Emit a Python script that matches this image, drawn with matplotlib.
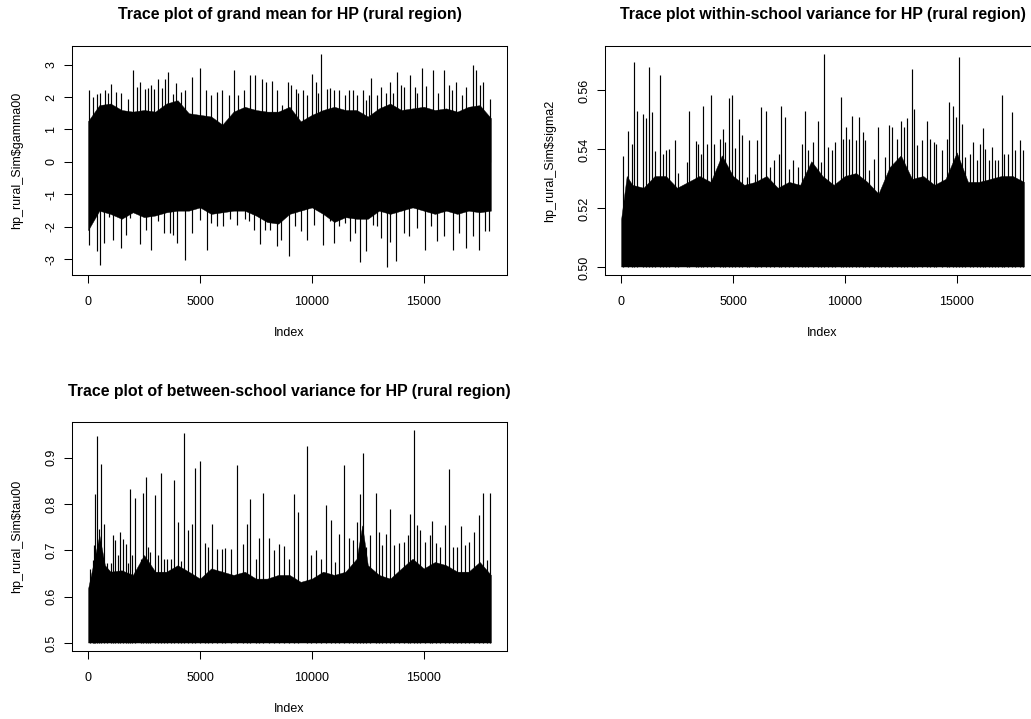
import numpy as np
import matplotlib
matplotlib.use('Agg')
import matplotlib.pyplot as plt

plt.rcParams['font.family'] = ['Liberation Sans', 'DejaVu Sans']

# ---------------- grand mean (gamma00) ----------------
# dense part of the trace, read every 500 iterations
gam_core_x = [0, 500, 1000, 1500, 2000, 2500, 3000, 3500, 4000, 4500, 5000, 5500,
              6000, 6500, 7000, 7500, 8000, 8500, 9000, 9500, 10000, 10500, 11000,
              11500, 12000, 12500, 13000, 13500, 14000, 14500, 15000, 15500, 16000,
              16500, 17000, 17500, 18000]
gam_core_hi = [1.26, 1.75, 1.8, 1.6, 1.55, 1.6, 1.55, 1.8, 1.9, 1.5, 1.45, 1.4,
               1.15, 1.55, 1.7, 1.6, 1.55, 1.55, 1.7, 1.25, 1.45, 1.6, 1.7,
               1.6, 1.6, 1.4, 1.65, 1.8, 1.6, 1.65, 1.7, 1.6, 1.65,
               1.55, 1.7, 1.75, 1.35]
gam_core_lo = [-2.1, -1.5, -1.6, -1.75, -1.55, -1.7, -1.65, -1.55, -1.5, -1.5, -1.4,
               -1.6, -1.55, -1.5, -1.5, -1.65, -1.85, -1.9, -1.6, -1.5, -1.4, -1.6,
               -1.85, -1.7, -1.75, -1.75, -1.5, -1.6, -1.5, -1.4, -1.5, -1.6, -1.5,
               -1.6, -1.5, -1.55, -1.5]
gam_up_x = [59, 238, 401, 550, 773, 877, 1040, 1248, 1471, 1798, 2021, 2184, 2333,
            2541, 2689, 2808, 2957, 3105, 3299, 3447, 3581, 3789, 3923, 4146, 4324,
            4621, 4978, 5290, 5483, 5780, 5988, 6300, 6508, 6716, 6954, 7251, 7444,
            7756, 7964, 8217, 8455, 8677, 8930, 9049, 9272, 9376, 9614, 9792, 9985,
            10163, 10267, 10416, 10654, 10802, 11010, 11233, 11471, 11649, 11828,
            12021, 12288, 12407, 12541, 12660, 12912, 13106, 13328, 13477, 13626,
            13804, 13982, 14131, 14398, 14606, 14695, 14933, 15111, 15423, 15632,
            15899, 16107, 16256, 16449, 16702, 16895, 17222, 17341, 17519, 17667, 17964]
gam_up_y = [2.21, 2.00, 2.09, 2.13, 2.21, 2.11, 2.41, 2.16, 2.11, 1.95, 2.84, 2.31, 2.47,
            2.26, 2.28, 2.38, 2.26, 2.57, 2.29, 2.54, 2.78, 2.08, 2.44, 2.16, 2.21,
            2.62, 2.90, 2.21, 2.06, 2.16, 2.21, 2.06, 2.84, 2.06, 2.21, 2.67, 2.67,
            2.54, 2.46, 2.49, 2.23, 1.75, 2.46, 2.36, 2.26, 2.11, 2.23, 2.06, 2.72,
            2.46, 2.11, 3.31, 2.26, 2.28, 2.21, 2.21, 2.06, 2.21, 2.21,
            2.06, 2.21, 1.90, 2.06, 2.60, 2.06, 2.31, 2.11, 2.46, 2.11,
            2.77, 2.36, 2.31, 2.69, 2.31, 2.11, 2.90, 2.33, 2.84, 2.11,
            2.82, 2.36, 2.21, 2.46, 2.06, 2.31, 3.00, 2.82, 2.36, 2.46, 1.95]
gam_dn_x = [59, 386, 550, 698, 951, 1100, 1486, 1679, 1887, 2303, 2585, 2823, 3105,
            3403, 3640, 3804, 3982, 4309, 4651, 5007, 5305, 5513, 5780, 6048, 6330,
            6672, 6999, 7207, 7415, 7682, 7905, 8128, 8455, 8633, 8975, 9242, 9495,
            9762, 10089, 10505, 10832, 10981, 11219, 11471, 11724, 11947, 12169,
            12437, 12719, 12912, 13106, 13358, 13507, 13759, 14101, 14324, 14695,
            15067, 15320, 15587, 15884, 16285, 16582, 16909, 17222, 17489, 17756, 17935]
gam_dn_y = [-2.55, -2.75, -3.18, -2.49, -1.68, -2.39, -2.65, -2.24, -1.73, -2.52, -2.09,
            -2.72, -1.83, -2.19, -2.19, -2.26, -2.49, -3.01, -2.19, -1.78, -2.72, -1.88,
            -1.98, -1.98, -1.75, -1.93, -1.75, -1.83, -2.09, -2.53, -2.09, -2.09, -2.60,
            -2.39, -2.90, -1.98, -2.14, -2.39, -1.93, -2.55, -1.83, -2.49, -1.98, -1.88,
            -2.44, -2.19, -3.09, -2.75, -1.93, -1.98, -2.34, -3.22, -2.47, -3.06, -2.19,
            -2.29, -2.03, -2.72, -1.98, -2.44, -2.29, -2.70, -2.19, -2.65, -2.29, -2.72,
            -2.14, -2.14]

# ---------------- within-school variance (sigma2) ----------------
sig_floor = 0.5003
sig_core_x = [0, 250, 500, 1000, 1500, 2000, 2500, 3000, 3500, 4000, 4500, 5000, 5500,
              6000, 6500, 7000, 7500, 8000, 8500, 9000, 9500, 10000, 10500, 11000,
              11500, 12000, 12500, 13000, 13500, 14000, 14500, 15000, 15500, 16000,
              16500, 17000, 17500, 18000]
sig_core_hi = [0.5164, 0.531, 0.528, 0.527, 0.531, 0.531, 0.527, 0.529, 0.531, 0.529,
               0.538, 0.531, 0.528, 0.529, 0.531, 0.527, 0.529, 0.528, 0.536, 0.531,
               0.528, 0.531, 0.532, 0.529, 0.525, 0.534, 0.538, 0.530, 0.531, 0.528,
               0.530, 0.539, 0.529, 0.529, 0.530, 0.531, 0.531, 0.529]
sig_up_x = [89, 325, 473, 562, 695, 976, 1124, 1243, 1361, 1509, 1716, 1864, 2012,
            2160, 2396, 2544, 2929, 3047, 3343, 3432, 3550, 3669, 3846, 4024, 4172,
            4438, 4556, 4660, 4808, 4956, 5104, 5281, 5399, 5621, 5695, 5962, 6095,
            6243, 6479, 6657, 6834, 7071, 7145, 7322, 7515, 7692, 7914, 8077, 8210,
            8358, 8580, 8802, 8950, 9053, 9246, 9423, 9541, 9808, 9911, 10059, 10178,
            10311, 10503, 10651, 10799, 10917, 11095, 11317, 11464, 11612, 11805,
            11953, 12101, 12308, 12500, 12648, 12781, 12988, 13092, 13240, 13462,
            13654, 13787, 13979, 14083, 14349, 14571, 14675, 14822, 14970, 15118,
            15237, 15385, 15607, 15725, 15902, 16050, 16169, 16272, 16450, 16568,
            16716, 16864, 17012, 17130, 17308, 17485, 17604, 17825, 17959]
sig_up_y = [0.5377, 0.5461, 0.5417, 0.5698, 0.5532, 0.5519, 0.5506, 0.5678, 0.5527,
            0.5394, 0.5652, 0.5386, 0.5397, 0.5401, 0.5431, 0.5320, 0.5356, 0.5530,
            0.5429, 0.5417, 0.5386, 0.5549, 0.5417, 0.5584, 0.5417, 0.5435, 0.5471,
            0.5425, 0.5575, 0.5583, 0.5404, 0.5503, 0.5450, 0.5307, 0.5431, 0.5318,
            0.5431, 0.5544, 0.5532, 0.5341, 0.5363, 0.5386, 0.5549, 0.5510, 0.5335,
            0.5363, 0.5341, 0.5420, 0.5532, 0.5397, 0.5425, 0.5498, 0.5358, 0.5722,
            0.5408, 0.5397, 0.5425, 0.5577, 0.5436, 0.5476, 0.5436, 0.5512, 0.5431,
            0.5510, 0.5459, 0.5431, 0.5329, 0.5369, 0.5476, 0.5250, 0.5374, 0.5482,
            0.5476, 0.5436, 0.5496, 0.5476, 0.5507, 0.5674, 0.5538, 0.5414, 0.5431,
            0.5498, 0.5436, 0.5425, 0.5420, 0.5397, 0.5436, 0.5560, 0.5549, 0.5510,
            0.5715, 0.5487, 0.5374, 0.5386, 0.5425, 0.5363, 0.5420, 0.5474, 0.5403,
            0.5363, 0.5408, 0.5363, 0.5363, 0.5583, 0.5386, 0.5386, 0.5527, 0.5397,
            0.5431, 0.5397]

# ---------------- between-school variance (tau00) ----------------
tau_floor = 0.501
tau_core_x = [0, 250, 500, 750, 1000, 1500, 2000, 2500, 3000, 3500, 4000, 4500, 5000,
              5500, 6000, 6500, 7000, 7500, 8000, 8500, 9000, 9500, 10000, 10500,
              11000, 11500, 12000, 12250, 12500, 13000, 13500, 14000, 14500, 15000,
              15500, 16000, 16500, 17000, 17500, 18000]
tau_core_hi = [0.618, 0.675, 0.733, 0.668, 0.654, 0.657, 0.647, 0.690, 0.654, 0.654,
               0.668, 0.654, 0.639, 0.661, 0.654, 0.647, 0.654, 0.639, 0.639, 0.647,
               0.647, 0.632, 0.639, 0.654, 0.647, 0.654, 0.682, 0.754, 0.668, 0.647,
               0.639, 0.661, 0.682, 0.661, 0.675, 0.668, 0.654, 0.654, 0.675, 0.647]
tau_up_x = [89, 208, 282, 327, 401, 475, 579, 728, 847, 1025, 1114, 1218, 1352, 1441,
            1560, 1694, 1798, 1887, 1976, 2095, 2363, 2467, 2571, 2689, 2764, 3001,
            3105, 3254, 3373, 3522, 3700, 3848, 3997, 4146, 4294, 4473, 4621, 4785,
            5007, 5215, 5349, 5557, 5780, 6003, 6137, 6374, 6672, 6939, 7117, 7236,
            7489, 7637, 7831, 8083, 8306, 8529, 8752, 8975, 9198, 9391, 9792, 9970,
            10163, 10416, 10639, 10862, 11055, 11204, 11426, 11679, 11842, 12021,
            12140, 12288, 12437, 12615, 12883, 13016, 13135, 13314, 13507, 13685,
            13908, 14101, 14279, 14398, 14577, 14695, 14844, 15067, 15260, 15379,
            15557, 15736, 15929, 16137, 16285, 16479, 16672, 16850, 17043, 17251,
            17474, 17637, 17816, 17964]
tau_up_y = [0.659, 0.679, 0.711, 0.821, 0.947, 0.747, 0.887, 0.756, 0.672, 0.672,
            0.733, 0.722, 0.690, 0.739, 0.724, 0.713, 0.672, 0.832, 0.690, 0.813,
            0.682, 0.823, 0.858, 0.708, 0.697, 0.819, 0.690, 0.868, 0.682, 0.682,
            0.682, 0.851, 0.761, 0.677, 0.954, 0.744, 0.756, 0.879, 0.894, 0.715,
            0.708, 0.758, 0.704, 0.703, 0.705, 0.704, 0.885, 0.713, 0.756, 0.810,
            0.681, 0.727, 0.823, 0.727, 0.700, 0.713, 0.710, 0.682, 0.821, 0.782,
            0.925, 0.690, 0.700, 0.682, 0.799, 0.765, 0.675, 0.736, 0.885, 0.726,
            0.722, 0.761, 0.821, 0.911, 0.708, 0.733, 0.825, 0.740, 0.711, 0.736,
            0.790, 0.711, 0.715, 0.718, 0.733, 0.779, 0.959, 0.754, 0.744, 0.718,
            0.733, 0.763, 0.715, 0.708, 0.754, 0.875, 0.708, 0.708, 0.752, 0.711,
            0.718, 0.739, 0.776, 0.825, 0.679, 0.823]

titles = ['Trace plot of grand mean for HP (rural region)',
          'Trace plot within-school variance for HP (rural region)',
          'Trace plot of between-school variance for HP (rural region)']
ylabels = ['hp_rural_Sim$gamma00', 'hp_rural_Sim$sigma2', 'hp_rural_Sim$tau00']

W, H = 1031, 719
fig = plt.figure(figsize=(W / 100, H / 100), dpi=100)

# axes boxes in pixels (left, top, right, bottom); the right panel runs past the edge
boxes = [(72, 46, 507, 275), (605, 46, 1040, 275), (72, 422, 507, 651)]
axes = []
for l, t, r, b in boxes:
    axes.append(fig.add_axes([l / W, 1 - b / H, (r - l) / W, (b - t) / H]))


def trace_panel(ax, core_x, core_lo, core_hi, up_x, up_y, dn_x=None, dn_y=None, base=0):
    ax.fill_between(core_x, core_lo, core_hi, facecolor='black', edgecolor='black',
                    lw=0.3)
    ax.vlines(up_x, base, up_y, color='black', lw=0.85)
    vals = list(up_y) + list(np.atleast_1d(core_lo))
    if dn_x is not None:
        ax.vlines(dn_x, base, dn_y, color='black', lw=0.85)
        vals += list(dn_y)
    lo, hi = min(vals), max(vals)
    pad = (hi - lo) * 0.04
    ax.set_ylim(lo - pad, hi + pad)
    ax.set_xlim(-720, 18720)


trace_panel(axes[0], gam_core_x, gam_core_lo, gam_core_hi, gam_up_x, gam_up_y,
            gam_dn_x, gam_dn_y, base=0)
trace_panel(axes[1], sig_core_x, sig_floor, sig_core_hi, sig_up_x, sig_up_y,
            base=sig_floor)
trace_panel(axes[2], tau_core_x, tau_floor, tau_core_hi, tau_up_x, tau_up_y,
            base=tau_floor)

yticks = [[-3, -2, -1, 0, 1, 2, 3],
          [0.50, 0.52, 0.54, 0.56],
          [0.5, 0.6, 0.7, 0.8, 0.9]]
yfmt = ['{:g}', '{:.2f}', '{:.1f}']

for i, ax in enumerate(axes):
    l, t, r, b = boxes[i]
    w, h = r - l, b - t
    ax.set_xticks([0, 5000, 10000, 15000])
    ax.set_xticklabels(['0', '5000', '10000', '15000'])
    ax.set_yticks(yticks[i])
    ax.set_yticklabels([yfmt[i].format(v) for v in yticks[i]])
    ax.tick_params(direction='out', length=5.5, width=0.75, labelsize=9,
                   colors='black')
    ax.tick_params(axis='x', pad=9.5)
    ax.tick_params(axis='y', pad=5, labelrotation=90)
    for lab in ax.get_yticklabels():
        lab.set_va('center')
    for s in ax.spines.values():
        s.set_linewidth(0.75)
        s.set_color('black')
    ax.text(0.5, 1 + 31 / h, titles[i], transform=ax.transAxes, ha='center',
            va='center', fontsize=11.4, fontweight='bold')
    ax.text(0.5, -58 / h, 'Index', transform=ax.transAxes, ha='center',
            va='center', fontsize=9)
    ax.text(-55 / w, 0.5, ylabels[i], transform=ax.transAxes, ha='center',
            va='center', rotation=90, fontsize=9)

fig.savefig('out.png', dpi=100)
